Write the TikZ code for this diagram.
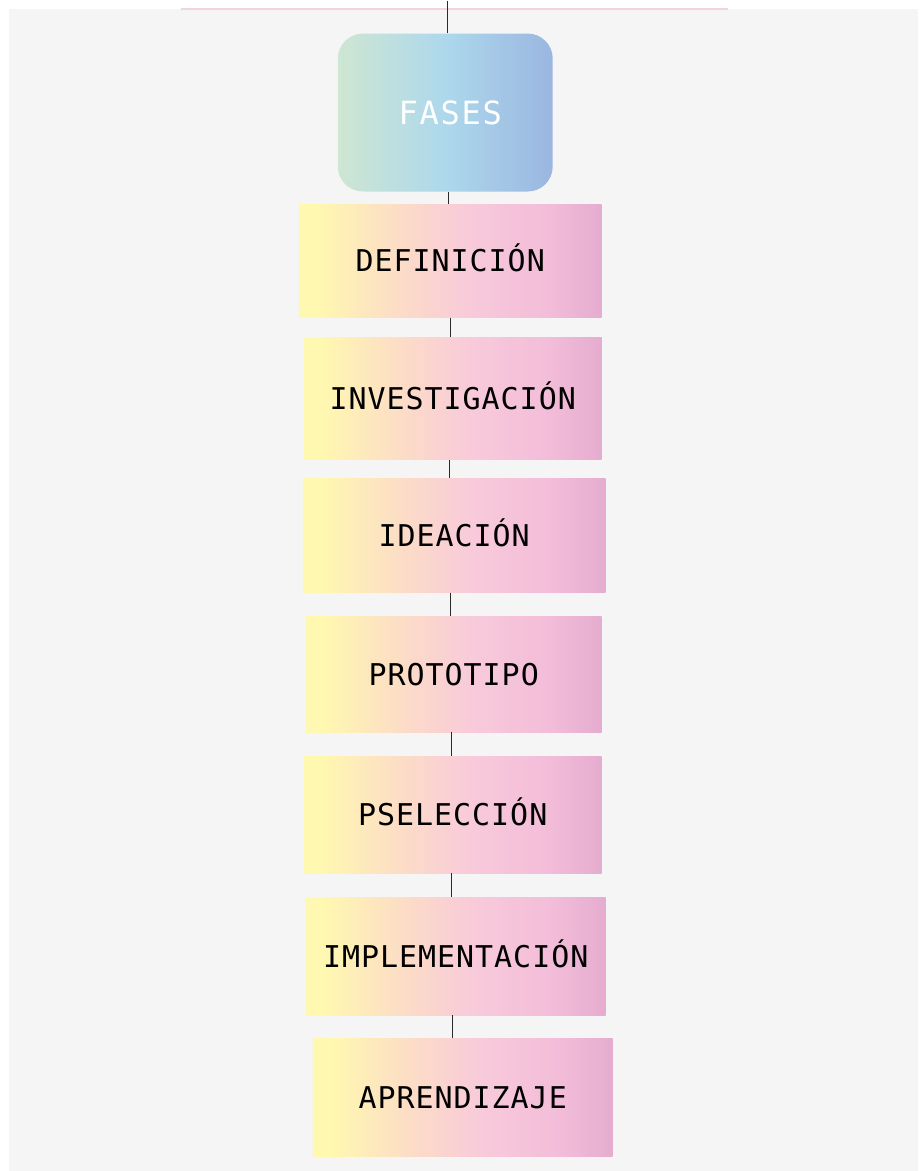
\documentclass[tikz,border=0pt]{standalone}
\usepackage{fontspec}
\setmonofont{DejaVu Sans Mono}
\newfontfamily\fasefont[LetterSpace=3.2]{DejaVu Sans Mono}
\newfontfamily\titulofont[LetterSpace=5.5]{DejaVu Sans Mono}
\usepackage{tikz}
\usetikzlibrary{positioning,calc}
\definecolor{fondo}{HTML}{F5F5F5}
\definecolor{linea}{HTML}{F5D3DE}
\definecolor{trazo}{HTML}{2A2A2A}
\definecolor{amarillo}{HTML}{FFF8B0}
\definecolor{durazno}{HTML}{FCDDC6}
\definecolor{rosa}{HTML}{F8CADA}
\definecolor{rosab}{HTML}{F3BDD9}
\definecolor{malva}{HTML}{E5ACCF}
\definecolor{verde}{HTML}{CEE6D2}
\definecolor{celeste}{HTML}{ADD8EC}
\definecolor{azul}{HTML}{9BB6E0}
\pgfdeclarehorizontalshading{pastel}{100bp}{color(0bp)=(amarillo); color(25bp)=(amarillo); color(28bp)=(amarillo); color(41bp)=(durazno); color(53bp)=(rosa); color(66bp)=(rosab); color(75bp)=(malva); color(100bp)=(malva)}
\pgfdeclarehorizontalshading{cielo}{100bp}{color(0bp)=(verde); color(25bp)=(verde); color(50bp)=(celeste); color(75bp)=(azul); color(100bp)=(azul)}

\begin{document}
\begin{tikzpicture}[x=1pt,y=-1pt,
  fase/.style={shade,shading=pastel,inner sep=0pt,text height=22pt,text depth=0pt,
    font=\fasefont\fontsize{30}{34}\selectfont},
  titulo/.style={shade,shading=cielo,rounded corners=25pt,inner sep=0pt,text=white,
    text height=23pt,text depth=0pt,minimum width=215pt,minimum height=158pt,
    font=\titulofont\fontsize{32}{36}\selectfont},
  enlace/.style={trazo,line width=1.2pt}]
	\fill[white] (0,0) rectangle (922,1171);
	\fill[fondo] (9,8) rectangle (918,1171);
	\draw[linea,line width=2pt] (181,8.5) -- (728,8.5);
	\coordinate (arriba) at (448,0);
	\node[titulo] (fases) at (445.5,112) {\kern10pt FASES};
	\node[fase,minimum width=303pt,minimum height=113pt] (def) at (450.5,260.5) {DEFINICIÓN};
	\node[fase,minimum width=298pt,minimum height=122pt] (inv) at (453,398) {INVESTIGACIÓN};
	\node[fase,minimum width=303pt,minimum height=114pt] (idea) at (454.5,535) {IDEACIÓN};
	\node[fase,minimum width=296pt,minimum height=116pt] (proto) at (454,674) {PROTOTIPO};
	\node[fase,minimum width=298pt,minimum height=117pt] (psel) at (453,814.5) {PSELECCIÓN};
	\node[fase,minimum width=300pt,minimum height=118pt] (impl) at (456,956) {IMPLEMENTACIÓN};
	\node[fase,minimum width=300pt,minimum height=118pt] (apr) at (463,1097) {APRENDIZAJE};
	\draw[enlace] (arriba) -- (arriba |- fases.north);
	\draw[enlace] (fases.south) ++(3,0) -- ($(fases.south |- def.north)+(3,0)$);
	\draw[enlace] (def.south) -- (def.south |- inv.north);
	\draw[enlace] (inv.south) ++(-3,0) -- ($(inv.south |- idea.north)+(-3,0)$);
	\draw[enlace] (idea.south) ++(-3.5,0) -- ($(idea.south |- proto.north)+(-3.5,0)$);
	\draw[enlace] (proto.south) ++(-2,0) -- ($(proto.south |- psel.north)+(-2,0)$);
	\draw[enlace] (psel.south) ++(-1,0) -- ($(psel.south |- impl.north)+(-1,0)$);
	\draw[enlace] (impl.south) ++(-3,0) -- ($(impl.south |- apr.north)+(-3,0)$);
\end{tikzpicture}
\end{document}
